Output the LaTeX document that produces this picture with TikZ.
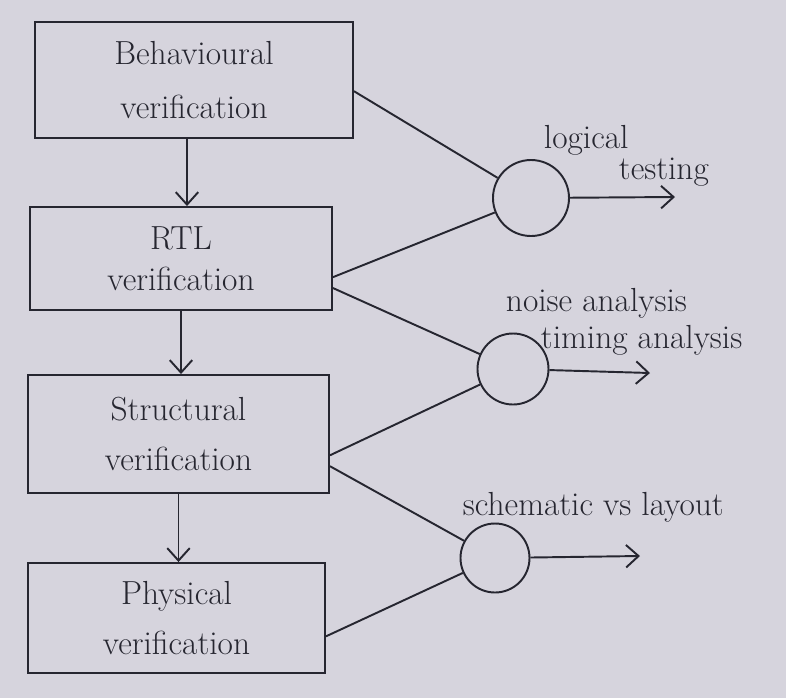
\documentclass[tikz,border=0pt]{standalone}
\usepackage{tikz}
\usetikzlibrary{arrows.meta}

\definecolor{paper}{RGB}{214,212,221}
\definecolor{ink}{RGB}{38,38,48}

\begin{document}
\begin{tikzpicture}[box/.style = {draw, rectangle, align=center, inner sep=0pt},
                    main/.style = {draw, circle, inner sep=0pt},
                    lbl/.style = {anchor=west, inner sep=0pt},
                    every path/.style = {ink, line width=1.1pt},
                    every node/.style = {font=\fontsize{19}{26}\selectfont, text=ink},
                    >={Straight Barb[length=2.5mm,width=4.5mm]}]
            \fill[paper] (0,0) rectangle (15.72,-13.96);
            \useasboundingbox (0,0) rectangle (15.72,-13.96);

            \node[box, minimum width=6.36cm, minimum height=2.32cm](b1) at (3.88,-1.6) {Behavioural\\[0.15cm] verification};
            \node[box, minimum width=6.04cm, minimum height=2.06cm](b2) at (3.62,-5.17) {RTL\\[-0.1cm] verification};
            \node[box, minimum width=6.02cm, minimum height=2.36cm](b3) at (3.57,-8.68) {Structural\\[0.1cm] verification};
            \node[box, minimum width=5.94cm, minimum height=2.2cm](b4) at (3.53,-12.36) {Physical\\[0.1cm] verification};

            \node[main, minimum size=1.52cm](c1) at (10.62,-3.96) {};
            \node[main, minimum size=1.42cm](c2) at (10.26,-7.38) {};
            \node[main, minimum size=1.38cm](c3) at (9.9,-11.16) {};

            \coordinate (o1) at (13.5,-3.94);
            \coordinate (o2) at (13.0,-7.46);
            \coordinate (o3) at (12.8,-11.12);

            \node[lbl](l1) at (10.86,-2.8) {logical};
            \node[lbl](l2) at (12.36,-3.44) {testing};
            \node[lbl](l3) at (10.1,-6.06) {noise analysis};
            \node[lbl](l4) at (10.8,-6.8) {timing analysis};
            \node[lbl](l5) at (9.24,-10.14) {schematic vs layout};

            \draw[->] ([xshift=-0.14cm]b1.south) -- ([xshift=-0.14cm]b1.south |- b2.north);
            \draw[->] (b2.south) -- (b2.south |- b3.north);
            \draw[->] (b3.south) -- (b3.south |- b4.north);

            \draw (b1.-4) -- (c1);\draw (b2.-7) -- (c1);
            \draw (b2.-11) -- (c2);\draw (b3.-8) -- (c2);
            \draw (b3.-12) -- (c3);\draw (b4.-7) -- (c3);

            \draw[->] (c1) -- (o1);
            \draw[->] (c2) -- (o2);
            \draw[->] (c3) -- (o3);
        \end{tikzpicture}
\end{document}
